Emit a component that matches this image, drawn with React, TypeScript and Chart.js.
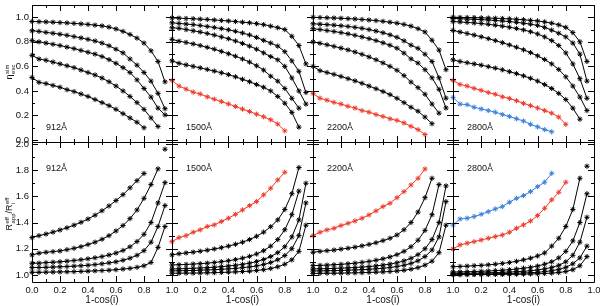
import React, { useEffect, useRef } from 'react';
import { Chart, registerables } from 'chart.js';

Chart.register(...registerables);

// ---------- data ----------
const cosGrid = [0, 0.05, 0.1, 0.15, 0.2, 0.25, 0.3, 0.35, 0.4, 0.45, 0.5, 0.55, 0.6, 0.65, 0.7, 0.75, 0.8, 0.85, 0.9, 0.95];
const wavelengths = ['912Å', '1500Å', '2200Å', '2800Å'];
const xTickValues = [0, 0.2, 0.4, 0.6, 0.8, 1.0];
const xMinorValues = [0.1, 0.3, 0.5, 0.7, 0.9];
const escTickValues = [0, 0.2, 0.4, 0.6, 0.8, 1.0];
const escMinorValues = [0.1, 0.3, 0.5, 0.7, 0.9];
const ratioTickValues = [1.0, 1.2, 1.4, 1.6, 1.8, 2.0];
const ratioMinorValues = [1.1, 1.3, 1.5, 1.7, 1.9];

// escape fraction, 912 A
const esc912A = [0.966, 0.964, 0.962, 0.96, 0.957, 0.954, 0.95, 0.946, 0.942, 0.936, 0.93, 0.92, 0.905, 0.885, 0.86, 0.83, 0.79, 0.727, 0.64, 0.474];
const esc912B = [0.89, 0.885, 0.877, 0.87, 0.862, 0.853, 0.843, 0.832, 0.82, 0.807, 0.79, 0.768, 0.74, 0.71, 0.66, 0.61, 0.55, 0.48, 0.38, 0.255];
const esc912C = [0.81, 0.8, 0.79, 0.78, 0.77, 0.757, 0.745, 0.73, 0.715, 0.7, 0.68, 0.655, 0.625, 0.59, 0.55, 0.49, 0.42, 0.35, 0.26, 0.205];
const esc912D = [0.69, 0.66, 0.65, 0.635, 0.62, 0.605, 0.59, 0.57, 0.55, 0.53, 0.505, 0.475, 0.44, 0.4, 0.355, 0.305, 0.25, 0.18, 0.11];
const esc912E = [0.51, 0.47, 0.46, 0.445, 0.43, 0.41, 0.395, 0.375, 0.355, 0.33, 0.305, 0.28, 0.25, 0.215, 0.18, 0.145, 0.1];

// escape fraction, 1500 A
const esc1500A = [0.995, 0.993, 0.99, 0.988, 0.985, 0.982, 0.978, 0.974, 0.97, 0.965, 0.96, 0.955, 0.948, 0.94, 0.928, 0.915, 0.9, 0.845, 0.77, 0.62];
const esc1500B = [0.955, 0.95, 0.945, 0.94, 0.933, 0.925, 0.917, 0.908, 0.898, 0.886, 0.872, 0.856, 0.836, 0.812, 0.79, 0.765, 0.72, 0.645, 0.56, 0.387];
const esc1500C = [0.915, 0.91, 0.9, 0.89, 0.88, 0.868, 0.855, 0.84, 0.825, 0.807, 0.787, 0.765, 0.74, 0.71, 0.68, 0.653, 0.6, 0.506, 0.4, 0.293];
const esc1500D = [0.82, 0.805, 0.795, 0.783, 0.77, 0.755, 0.74, 0.722, 0.703, 0.683, 0.66, 0.635, 0.605, 0.57, 0.52, 0.48, 0.42, 0.34, 0.26];
const esc1500E = [0.645, 0.625, 0.612, 0.6, 0.588, 0.575, 0.562, 0.548, 0.533, 0.515, 0.495, 0.475, 0.452, 0.43, 0.4, 0.355, 0.3, 0.225, 0.105];
const esc1500Red = [0.485, 0.44, 0.415, 0.39, 0.375, 0.352, 0.333, 0.313, 0.294, 0.273, 0.252, 0.232, 0.211, 0.189, 0.165, 0.13, 0.075];

// escape fraction, 2200 A
const esc2200A = [1.0, 0.998, 0.996, 0.994, 0.992, 0.989, 0.986, 0.982, 0.978, 0.973, 0.967, 0.96, 0.952, 0.942, 0.928, 0.907, 0.88, 0.813, 0.733, 0.573];
const esc2200B = [0.947, 0.944, 0.94, 0.936, 0.931, 0.925, 0.918, 0.91, 0.9, 0.888, 0.874, 0.857, 0.837, 0.808, 0.773, 0.747, 0.699, 0.64, 0.507, 0.341];
const esc2200C = [0.907, 0.9, 0.892, 0.884, 0.875, 0.865, 0.853, 0.84, 0.826, 0.81, 0.792, 0.772, 0.748, 0.708, 0.661, 0.627, 0.573, 0.507, 0.413, 0.261];
const esc2200D = [0.8, 0.788, 0.776, 0.763, 0.749, 0.734, 0.717, 0.698, 0.677, 0.654, 0.628, 0.6, 0.568, 0.525, 0.472, 0.427, 0.373, 0.293, 0.219];
const esc2200E = [0.6, 0.565, 0.55, 0.535, 0.518, 0.5, 0.482, 0.462, 0.44, 0.418, 0.395, 0.37, 0.34, 0.305, 0.267, 0.235, 0.187, 0.133];
const esc2200Red = [0.378, 0.341, 0.325, 0.307, 0.293, 0.275, 0.261, 0.24, 0.227, 0.208, 0.192, 0.173, 0.16, 0.139, 0.112, 0.085, 0.045];

// escape fraction, 2800 A
const esc2800A = [1.0, 0.999, 0.998, 0.997, 0.996, 0.994, 0.992, 0.99, 0.987, 0.984, 0.98, 0.975, 0.97, 0.962, 0.952, 0.938, 0.918, 0.875, 0.8, 0.64];
const esc2800B = [0.99, 0.988, 0.986, 0.984, 0.981, 0.978, 0.974, 0.97, 0.965, 0.959, 0.952, 0.944, 0.934, 0.918, 0.895, 0.87, 0.84, 0.79, 0.7, 0.48];
const esc2800C = [0.965, 0.962, 0.958, 0.954, 0.949, 0.943, 0.936, 0.928, 0.919, 0.909, 0.897, 0.882, 0.864, 0.84, 0.81, 0.77, 0.71, 0.62, 0.5, 0.34];
const esc2800D = [0.893, 0.88, 0.868, 0.855, 0.841, 0.826, 0.81, 0.793, 0.775, 0.756, 0.735, 0.712, 0.686, 0.656, 0.62, 0.575, 0.515, 0.44, 0.35, 0.24];
const esc2800E = [0.653, 0.64, 0.63, 0.62, 0.61, 0.598, 0.586, 0.572, 0.557, 0.541, 0.523, 0.503, 0.48, 0.452, 0.42, 0.38, 0.33, 0.26, 0.17];
const esc2800Red = [0.485, 0.453, 0.44, 0.421, 0.405, 0.387, 0.373, 0.352, 0.339, 0.32, 0.299, 0.28, 0.261, 0.24, 0.219, 0.187, 0.128];
const esc2800Blue = [0.347, 0.293, 0.288, 0.267, 0.253, 0.24, 0.227, 0.208, 0.192, 0.173, 0.155, 0.128, 0.107, 0.085, 0.067];

// radius ratio, 912 A
const rat912A = [1.02, 1.02, 1.021, 1.022, 1.023, 1.024, 1.025, 1.027, 1.029, 1.031, 1.033, 1.036, 1.04, 1.045, 1.05, 1.058, 1.07, 1.095, 1.21, 1.37];
const rat912B = [1.056, 1.057, 1.058, 1.06, 1.062, 1.064, 1.067, 1.07, 1.074, 1.079, 1.085, 1.092, 1.1, 1.112, 1.128, 1.15, 1.185, 1.25, 1.37, 1.53];
const rat912C = [1.089, 1.09, 1.094, 1.097, 1.1, 1.105, 1.11, 1.116, 1.123, 1.131, 1.14, 1.152, 1.167, 1.187, 1.215, 1.255, 1.31, 1.4, 1.55, 1.705];
const rat912D = [1.153, 1.166, 1.173, 1.178, 1.183, 1.193, 1.203, 1.216, 1.232, 1.25, 1.272, 1.3, 1.336, 1.377, 1.43, 1.496, 1.585, 1.69, 1.81];
const rat912E = [1.285, 1.3, 1.312, 1.327, 1.343, 1.36, 1.38, 1.402, 1.427, 1.456, 1.49, 1.527, 1.568, 1.613, 1.665, 1.72, 1.775];
const stray912X = [0.95];
const stray912Y = [1.96];

// radius ratio, 1500 A
const rat1500A = [1.013, 1.013, 1.014, 1.014, 1.015, 1.016, 1.017, 1.019, 1.021, 1.023, 1.026, 1.029, 1.034, 1.04, 1.049, 1.062, 1.082, 1.115, 1.18, 1.38];
const rat1500B = [1.031, 1.032, 1.033, 1.034, 1.036, 1.038, 1.04, 1.043, 1.046, 1.05, 1.055, 1.061, 1.069, 1.08, 1.095, 1.116, 1.148, 1.2, 1.3, 1.55];
const rat1500C = [1.046, 1.047, 1.049, 1.051, 1.053, 1.056, 1.059, 1.063, 1.068, 1.074, 1.081, 1.09, 1.102, 1.118, 1.14, 1.17, 1.215, 1.29, 1.42, 1.7];
const rat1500D = [1.076, 1.078, 1.08, 1.083, 1.086, 1.09, 1.095, 1.101, 1.108, 1.117, 1.128, 1.142, 1.16, 1.185, 1.22, 1.27, 1.345, 1.46, 1.64];
const rat1500E = [1.153, 1.162, 1.168, 1.174, 1.181, 1.189, 1.198, 1.208, 1.22, 1.234, 1.25, 1.27, 1.295, 1.327, 1.368, 1.42, 1.5, 1.62, 1.82];
const rat1500Red = [1.254, 1.285, 1.3, 1.326, 1.344, 1.37, 1.382, 1.408, 1.433, 1.463, 1.496, 1.529, 1.56, 1.611, 1.662, 1.725, 1.784];

// radius ratio, 2200 A
const rat2200A = [1.012, 1.012, 1.013, 1.013, 1.014, 1.015, 1.016, 1.017, 1.019, 1.021, 1.023, 1.026, 1.03, 1.036, 1.044, 1.056, 1.075, 1.105, 1.17, 1.38];
const rat2200B = [1.03, 1.031, 1.032, 1.033, 1.034, 1.036, 1.038, 1.04, 1.043, 1.047, 1.051, 1.057, 1.064, 1.074, 1.088, 1.108, 1.14, 1.19, 1.29, 1.56];
const rat2200C = [1.046, 1.047, 1.048, 1.05, 1.052, 1.054, 1.057, 1.06, 1.064, 1.069, 1.075, 1.083, 1.093, 1.107, 1.127, 1.155, 1.2, 1.27, 1.4, 1.68];
const rat2200D = [1.071, 1.073, 1.075, 1.078, 1.081, 1.085, 1.09, 1.096, 1.103, 1.112, 1.123, 1.137, 1.155, 1.18, 1.215, 1.265, 1.34, 1.46, 1.69];
const rat2200E = [1.173, 1.18, 1.185, 1.19, 1.197, 1.204, 1.212, 1.222, 1.233, 1.246, 1.262, 1.28, 1.305, 1.345, 1.4, 1.48, 1.59, 1.738];
const rat2200Red = [1.3, 1.326, 1.344, 1.356, 1.377, 1.394, 1.412, 1.433, 1.458, 1.489, 1.522, 1.547, 1.59, 1.636, 1.687, 1.738, 1.809];

// radius ratio, 2800 A
const rat2800A = [1.002, 1.002, 1.002, 1.003, 1.003, 1.003, 1.004, 1.004, 1.005, 1.005, 1.006, 1.007, 1.009, 1.011, 1.014, 1.018, 1.026, 1.04, 1.07, 1.14];
const rat2800B = [1.006, 1.006, 1.007, 1.007, 1.008, 1.008, 1.009, 1.01, 1.011, 1.013, 1.015, 1.017, 1.02, 1.025, 1.032, 1.042, 1.058, 1.085, 1.13, 1.22];
const rat2800C = [1.012, 1.012, 1.013, 1.014, 1.015, 1.016, 1.018, 1.02, 1.022, 1.025, 1.028, 1.032, 1.038, 1.046, 1.057, 1.073, 1.1, 1.15, 1.25, 1.44];
const rat2800D = [1.022, 1.023, 1.024, 1.026, 1.028, 1.03, 1.033, 1.036, 1.04, 1.045, 1.051, 1.058, 1.068, 1.082, 1.1, 1.13, 1.18, 1.26, 1.4, 1.62];
const rat2800E = [1.063, 1.065, 1.067, 1.07, 1.073, 1.077, 1.082, 1.088, 1.095, 1.104, 1.115, 1.128, 1.145, 1.168, 1.22, 1.28, 1.37, 1.5, 1.738];
const rat2800Red = [1.198, 1.229, 1.242, 1.254, 1.267, 1.28, 1.293, 1.305, 1.326, 1.356, 1.382, 1.412, 1.453, 1.509, 1.573, 1.631, 1.708];
const rat2800Blue = [1.382, 1.427, 1.433, 1.446, 1.463, 1.483, 1.504, 1.522, 1.555, 1.585, 1.606, 1.636, 1.674, 1.708, 1.776];
const stray2800X = [0.95];
const stray2800Y = [1.83];

// ---------- styling / layout ----------
const BLACK = '#000000';
const RED = '#ee3a2a';
const BLUE = '#3a80dc';
const FONT = '"Liberation Sans", Arial, Helvetica, sans-serif';

const colLeft = [32, 172, 313, 453];
const colRight = [172, 313, 453, 594];
const rowTop = [3, 142];
const rowBottom = [142, 282];
const rowMin = [-0.016, 0.946];
const rowMax = [1.1, 2.015];
const X_AXIS_H = 16;

type Series = { values: number[]; color: string };

const escPanels: Series[][] = [
  [esc912A, esc912B, esc912C, esc912D, esc912E].map((v) => ({ values: v, color: BLACK })),
  [
    ...[esc1500A, esc1500B, esc1500C, esc1500D, esc1500E].map((v) => ({ values: v, color: BLACK })),
    { values: esc1500Red, color: RED },
  ],
  [
    ...[esc2200A, esc2200B, esc2200C, esc2200D, esc2200E].map((v) => ({ values: v, color: BLACK })),
    { values: esc2200Red, color: RED },
  ],
  [
    ...[esc2800A, esc2800B, esc2800C, esc2800D, esc2800E].map((v) => ({ values: v, color: BLACK })),
    { values: esc2800Red, color: RED },
    { values: esc2800Blue, color: BLUE },
  ],
];

const ratioPanels: Series[][] = [
  [rat912A, rat912B, rat912C, rat912D, rat912E].map((v) => ({ values: v, color: BLACK })),
  [
    ...[rat1500A, rat1500B, rat1500C, rat1500D, rat1500E].map((v) => ({ values: v, color: BLACK })),
    { values: rat1500Red, color: RED },
  ],
  [
    ...[rat2200A, rat2200B, rat2200C, rat2200D, rat2200E].map((v) => ({ values: v, color: BLACK })),
    { values: rat2200Red, color: RED },
  ],
  [
    ...[rat2800A, rat2800B, rat2800C, rat2800D, rat2800E].map((v) => ({ values: v, color: BLACK })),
    { values: rat2800Red, color: RED },
    { values: rat2800Blue, color: BLUE },
  ],
];

const strayPoints: { x: number[]; y: number[] }[] = [
  { x: stray912X, y: stray912Y },
  { x: [], y: [] },
  { x: [], y: [] },
  { x: stray2800X, y: stray2800Y },
];

const framePlugin = {
  id: 'idlFrame',
  afterDatasetsDraw(chart: any, _args: any, opts: any) {
    const { ctx, chartArea } = chart;
    const { left, right, top, bottom } = chartArea;
    const xs = chart.scales.x;
    const ys = chart.scales.y;
    const r = (v: number) => Math.round(v) + 0.5;
    ctx.save();
    ctx.strokeStyle = '#000';
    ctx.lineWidth = 1;
    ctx.beginPath();
    ctx.rect(r(left), r(top), Math.round(right) - Math.round(left), Math.round(bottom) - Math.round(top));
    ctx.stroke();
    ctx.beginPath();
    const xt = (vals: number[], len: number) => {
      vals.forEach((v) => {
        const p = r(xs.getPixelForValue(v));
        ctx.moveTo(p, bottom);
        ctx.lineTo(p, bottom - len);
        ctx.moveTo(p, top);
        ctx.lineTo(p, top + len);
      });
    };
    const yt = (vals: number[], len: number) => {
      vals.forEach((v) => {
        const p = r(ys.getPixelForValue(v));
        ctx.moveTo(left, p);
        ctx.lineTo(left + len, p);
        ctx.moveTo(right, p);
        ctx.lineTo(right - len, p);
      });
    };
    xt(xTickValues, 6);
    xt(xMinorValues, 3);
    yt(opts.major, 6);
    yt(opts.minor, 3);
    ctx.stroke();
    ctx.restore();
  },
};

function Panel({ row, col }: { row: number; col: number }) {
  const ref = useRef<HTMLCanvasElement>(null);
  useEffect(() => {
    if (!ref.current) return;
    const series = row === 0 ? escPanels[col] : ratioPanels[col];
    const datasets: any[] = series.map((s) => ({
      data: s.values.map((v, i) => ({ x: cosGrid[i], y: v })),
      borderColor: s.color,
      backgroundColor: s.color,
      borderWidth: 1,
      showLine: true,
      tension: 0,
      fill: false,
      pointStyle: 'star',
      pointRadius: 2.6,
      pointBorderWidth: 1,
      pointBorderColor: s.color,
      clip: 6,
    }));
    if (row === 1 && strayPoints[col].x.length) {
      datasets.push({
        data: strayPoints[col].x.map((x, i) => ({ x, y: strayPoints[col].y[i] })),
        borderColor: BLACK,
        backgroundColor: BLACK,
        showLine: false,
        pointStyle: 'star',
        pointRadius: 2.6,
        pointBorderWidth: 1,
        clip: 6,
      });
    }
    const yMajor = row === 0 ? escTickValues : ratioTickValues;
    const yMinor = row === 0 ? escMinorValues : ratioMinorValues;
    const xLabels = col === 0 ? xTickValues : xTickValues.filter((v) => v > 0);
    const showX = row === 1;
    const showY = col === 0;
    const chart = new Chart(ref.current, {
      type: 'scatter',
      data: { datasets },
      options: {
        animation: false,
        responsive: false,
        maintainAspectRatio: false,
        events: [],
        layout: {
          padding: {
            left: showY ? 0 : colLeft[col],
            right: 600 - colRight[col],
            top: rowTop[row],
            bottom: 306 - rowBottom[row] - (showX ? X_AXIS_H : 0),
          },
        },
        plugins: {
          legend: { display: false },
          tooltip: { enabled: false },
          idlFrame: { major: yMajor, minor: yMinor },
        } as any,
        scales: {
          x: {
            type: 'linear',
            min: 0,
            max: 1,
            grid: { display: false, drawTicks: false, tickLength: 0 },
            border: { display: false },
            afterBuildTicks: (s: any) => {
              s.ticks = xLabels.map((v) => ({ value: v }));
            },
            afterFit: (s: any) => {
              s.height = showX ? X_AXIS_H : 0;
              s.paddingLeft = 0;
              s.paddingRight = 0;
            },
            ticks: {
              display: showX,
              autoSkip: false,
              maxRotation: 0,
              minRotation: 0,
              padding: 3,
              color: '#111',
              font: { family: FONT, size: 9.5 },
              callback: (v: any) => Number(v).toFixed(1),
            },
          },
          y: {
            type: 'linear',
            min: rowMin[row],
            max: rowMax[row],
            grid: { display: false, drawTicks: false, tickLength: 0 },
            border: { display: false },
            afterBuildTicks: (s: any) => {
              s.ticks = yMajor.map((v) => ({ value: v }));
            },
            afterFit: (s: any) => {
              s.width = showY ? colLeft[0] : 0;
              s.paddingTop = 0;
              s.paddingBottom = 0;
            },
            ticks: {
              display: showY,
              autoSkip: false,
              padding: 3,
              color: '#111',
              font: { family: FONT, size: 9.5 },
              callback: (v: any) => Number(v).toFixed(1),
            },
          },
        },
      } as any,
      plugins: [framePlugin],
    });
    return () => chart.destroy();
  }, [row, col]);
  return (
    <canvas
      ref={ref}
      width={600}
      height={306}
      style={{ position: 'absolute', left: 0, top: 0, width: 600, height: 306 }}
    />
  );
}

const Stack = ({ sup, sub }: { sup: string; sub: string }) => (
  <span
    style={{
      display: 'inline-flex',
      flexDirection: 'column',
      fontSize: 6,
      lineHeight: '6px',
      verticalAlign: 'middle',
      marginLeft: 0.5,
    }}
  >
    <span>{sup}</span>
    <span>{sub}</span>
  </span>
);

export default function App() {
  const panels: React.ReactNode[] = [];
  for (let row = 0; row < 2; row++) {
    for (let col = 0; col < 4; col++) {
      panels.push(<Panel key={`${row}-${col}`} row={row} col={col} />);
    }
  }
  const textBase: React.CSSProperties = {
    position: 'absolute',
    fontFamily: FONT,
    color: '#111',
    whiteSpace: 'nowrap',
  };
  return (
    <div
      style={{
        position: 'fixed',
        left: 0,
        top: 0,
        width: 600,
        height: 306,
        background: '#fff',
        overflow: 'hidden',
      }}
    >
      {panels}
      {wavelengths.map((w, c) => (
        <React.Fragment key={w}>
          <div style={{ ...textBase, left: colLeft[c] + 14, top: 122, fontSize: 9, lineHeight: '10px' }}>{w}</div>
          <div style={{ ...textBase, left: colLeft[c] + 14, top: 163, fontSize: 9, lineHeight: '10px' }}>{w}</div>
          <div
            style={{
              ...textBase,
              left: (colLeft[c] + colRight[c]) / 2,
              top: 300,
              fontSize: 10,
              lineHeight: '10px',
              transform: 'translate(-50%, -50%)',
            }}
          >
            1-cos(i)
          </div>
        </React.Fragment>
      ))}
      <div
        style={{
          ...textBase,
          left: 9,
          top: 72,
          fontSize: 9,
          lineHeight: '12px',
          transform: 'translate(-50%, -50%) rotate(-90deg)',
        }}
      >
        η<Stack sup="sim" sub="esc" />
      </div>
      <div
        style={{
          ...textBase,
          left: 9,
          top: 214,
          fontSize: 9,
          lineHeight: '12px',
          transform: 'translate(-50%, -50%) rotate(-90deg)',
        }}
      >
        R<Stack sup="eff" sub="app" />/R<Stack sup="eff" sub="i" />
      </div>
    </div>
  );
}
